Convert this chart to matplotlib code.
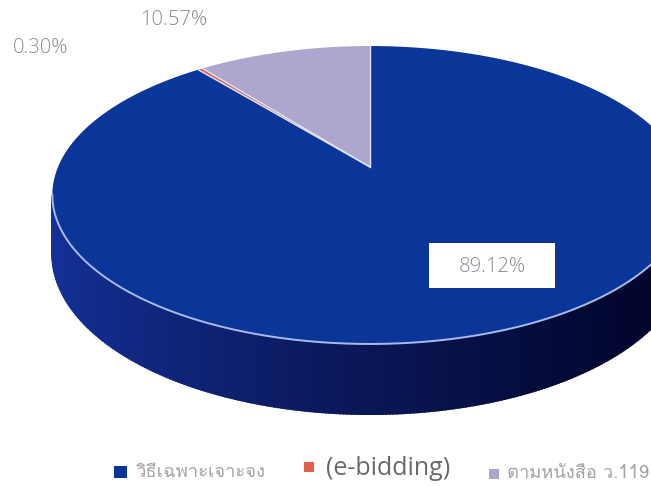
import numpy as np
import matplotlib
matplotlib.use("Agg")
import matplotlib.pyplot as plt
from matplotlib import font_manager
from matplotlib.collections import PolyCollection
from matplotlib.ft2font import FT2Font
from matplotlib.patches import Polygon, Rectangle

# data
labels = ["วิธีเฉพาะเจาะจง", "(e-bidding)", "ตามหนังสือ ว.119"]
shares = [89.12, 0.30, 10.57]
colors = ["#0b3699", "#e4604c", "#ada6cf"]

# projection of the tilted disc (pixel units of the 651x486 canvas)
X0, Y0 = 370, 167          # apex of the slices
SX, SY, K = 312, 143.7, 0.188
DEPTH = 57.7


def thai_font():
    for f in font_manager.fontManager.ttflist:
        try:
            if 0x0E27 in FT2Font(f.fname).get_charmap():
                return f.name
        except Exception:
            pass
    return "DejaVu Sans"


def rim(theta, drop=0.0):
    u, v = np.sin(theta), np.cos(theta)
    d = 1 + K * v
    return X0 + SX * u / d, Y0 - SY * v / d + drop / d


fig = plt.figure(figsize=(6.51, 4.86), dpi=100)
ax = fig.add_axes([0, 0, 1, 1])
ax.set_xlim(0, 651)
ax.set_ylim(486, 0)
ax.axis("off")

# side wall with shading from left (lit) to right (dark)
t0 = np.arccos(-K)
ts = np.linspace(t0, 2 * np.pi - t0, 300)
lit = np.array([20, 48, 150]) / 255
dark = np.array([3, 7, 48]) / 255
quads, fcs = [], []
for a, b in zip(ts[:-1], ts[1:]):
    xa, ya = rim(a)
    xb, yb = rim(b)
    xa2, ya2 = rim(a, DEPTH)
    xb2, yb2 = rim(b, DEPTH)
    # overlap neighbours a little so no seams show
    quads.append([(xa + 1, ya), (xb - 1, yb), (xb2 - 1, yb2), (xa2 + 1, ya2)])
    f = np.clip((xa - 60) / 560, 0, 1) ** 0.8
    fcs.append(lit * (1 - f) + dark * f)
ax.add_collection(PolyCollection(quads, facecolors=fcs, edgecolors="none",
                                 antialiased=True))
xs, ys = rim(ts)

# top faces
cum = np.concatenate([[0], np.cumsum(shares)]) / sum(shares) * 2 * np.pi
for i in range(len(shares)):
    th = np.linspace(cum[i], cum[i + 1], max(int(400 * shares[i] / 100), 4))
    x, y = rim(th)
    pts = [(X0, Y0)] + list(zip(x, y))
    ax.add_patch(Polygon(pts, closed=True, fc=colors[i], ec="none"))

# edge highlights
for a in cum[1:]:
    x, y = rim(a)
    ax.plot([X0, x], [Y0, y], color="#dfe4f5", lw=1.0)
ax.plot(xs, ys, color="#a9bbe8", lw=1.4)

# data labels
lab_kw = dict(fontfamily="Open Sans", fontweight="light", color="#8a8a94",
              fontsize=14.5, ha="center", va="center")
ax.text(174, 20, f"{shares[2]:.2f}%", **lab_kw)
ax.text(41, 48, f"{shares[1]:.2f}%", **lab_kw)
ax.add_patch(Rectangle((429, 243), 126, 45, fc="white", ec="none"))
ax.text(492, 267, f"{shares[0]:.2f}%", **lab_kw)

# legend
th_font = thai_font()
ax.scatter([120.5, 309, 494], [472, 467, 474], marker="s",
           s=[75, 60, 45], c=colors, linewidths=0)
ax.text(136, 472, labels[0], fontfamily=[th_font, "DejaVu Sans"],
        fontsize=13.3, color="#a4a4a4", va="center")
ax.text(326, 468, labels[1], fontfamily="Open Sans",
        fontsize=18, color="#6a6a6a", va="center")
ax.text(507, 473, labels[2], fontfamily=[th_font, "DejaVu Sans"],
        fontsize=13.2, color="#a4a4a4", va="center")

fig.savefig("out.png", dpi=100)
